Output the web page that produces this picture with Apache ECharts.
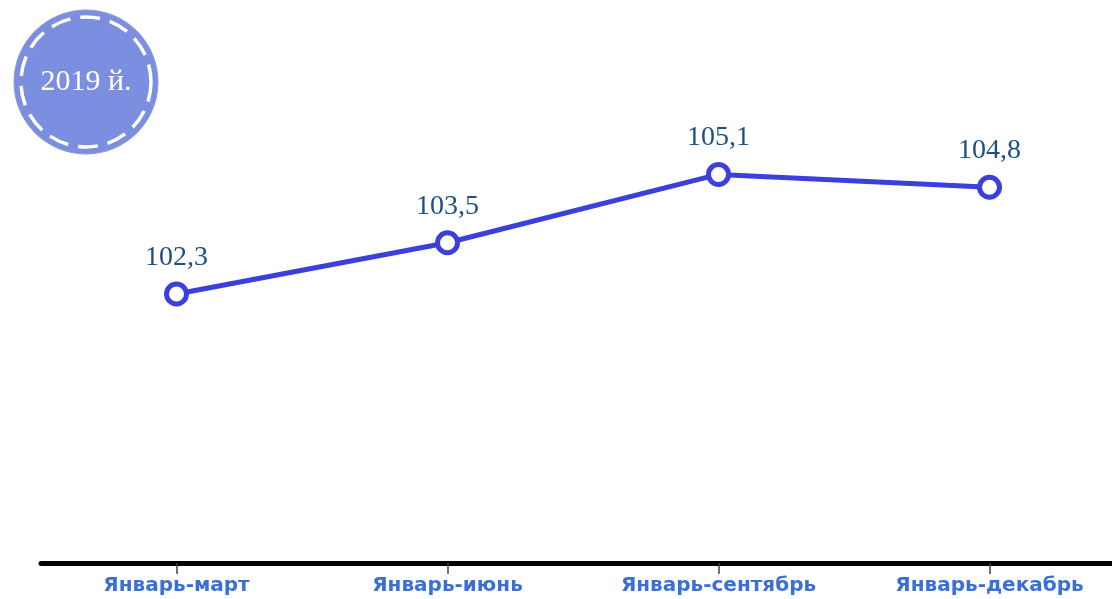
<!DOCTYPE html>
<html><head><meta charset="utf-8">
<script src="https://cdn.jsdelivr.net/npm/echarts@6/dist/echarts.min.js"></script>
<style>html,body{margin:0;padding:0;background:#fff}#c{width:1112px;height:599px}</style>
</head><body><div id="c"></div>
<script>
const categories = ['Январь-март', 'Январь-июнь', 'Январь-сентябрь', 'Январь-декабрь'];
const values = [102.3, 103.5, 105.1, 104.8];
const badgeText = '2019 й.';

const chart = echarts.init(document.getElementById('c'));
chart.setOption({
  animation: false,
  grid: { left: 41, width: 1084, top: 136, height: 427, outerBoundsMode: 'none', containLabel: false },
  xAxis: {
    type: 'category', data: categories, boundaryGap: true,
    axisLine: { lineStyle: { color: '#000', width: 5 } },
    axisTick: { show: true, interval: 0, alignWithLabel: true, length: 11, lineStyle: { color: '#444', width: 1.5 } },
    axisLabel: { color: '#3a6fd8', fontFamily: 'DejaVu Sans', fontWeight: 'bold', fontSize: 20, margin: 13 }
  },
  yAxis: { type: 'value', min: 96, max: 106, show: false, splitLine: { show: false } },
  series: [{
    type: 'line', data: values,
    symbol: 'circle', symbolSize: 20,
    lineStyle: { color: '#3b3fdc', width: 5 },
    itemStyle: { color: '#fff', borderColor: '#3b3fdc', borderWidth: 5 },
    label: {
      show: true, position: 'top', distance: 10,
      formatter: p => String(p.value).replace('.', ','),
      color: '#1e4f86', fontFamily: 'Liberation Serif', fontSize: 28
    }
  }],
  graphic: [
    { type: 'circle', shape: { cx: 86, cy: 82, r: 72 }, style: { fill: '#7b8ee0', stroke: '#8a96d8', lineWidth: 1 } },
    { type: 'circle', shape: { cx: 86, cy: 82, r: 65 }, style: { fill: 'none', stroke: '#fff', lineWidth: 3.5, lineDash: [20, 10] } },
    { type: 'text', x: 86, y: 82, style: { text: badgeText, fill: '#fff', font: '30px "Liberation Serif"', align: 'center', verticalAlign: 'middle' } }
  ]
});
</script></body></html>
